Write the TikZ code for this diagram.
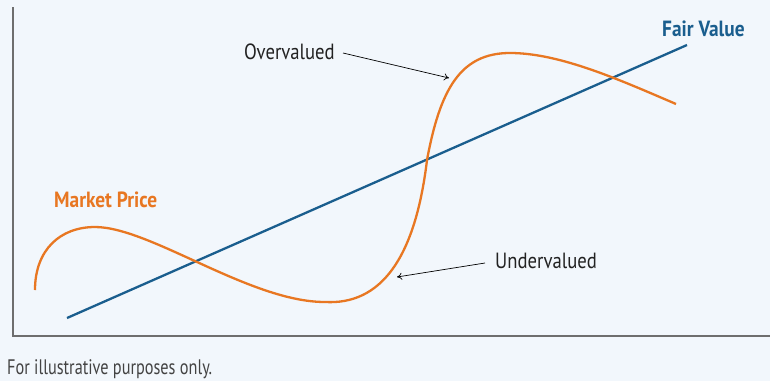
\documentclass[tikz,border=0pt]{standalone}
\usepackage{fontspec}
\setmainfont{PT Sans}[FakeStretch=0.85, BoldFeatures={FakeStretch=0.88}]
\newfontfamily\notefont{PT Sans}[FakeStretch=0.775]
\usetikzlibrary{arrows.meta}
\definecolor{bg}{HTML}{F2F7FC}
\definecolor{mkt}{HTML}{E87722}
\definecolor{fair}{HTML}{1A5E8E}
\definecolor{axisgray}{HTML}{6E6E6E}
\definecolor{txt}{HTML}{222222}
\tikzset{
  lbl/.style={inner sep=0pt, anchor=base west, font=\fontsize{22}{24}\selectfont, text=txt},
  ttl/.style={lbl, font=\fontsize{22}{24}\selectfont\bfseries},
  note/.style={lbl, font=\notefont\fontsize{21}{23}\selectfont, text=txt!85},
  axisline/.style={draw=axisgray, line width=1.1pt},
  callout/.style={draw=black, line width=0.7pt, -{To[length=5pt,width=7pt]}},
  curve/.style={line width=2.3pt}
}
\begin{document}
\begin{tikzpicture}[x=1pt,y=-1pt]
\fill[bg] (0,0) rectangle (770,381);
\useasboundingbox (0,0) rectangle (770,381);
% axes
\coordinate (ytop) at (13,7);
\coordinate (orig) at (13,336);
\coordinate (xend) at (770,336);
\draw[axisline] (ytop) -- (orig) -- (xend);
% fair value line
\coordinate (fv0) at (67,318);
\coordinate (fv1) at (687,45);
\draw[curve, fair] (fv0) -- (fv1);
% market price curve
\draw[curve, mkt] (35,290) .. controls (35,250) and (60,227) .. (95,227)
  .. controls (150,227) and (250,302) .. (325,302)
  .. controls (380,305) and (415,260) .. (427,160)
  .. controls (440,90) and (460,53) .. (510,53)
  .. controls (560,53) and (620,80) .. (676,104);
% labels
\node[ttl, text=fair] (fvl) at (662,36) {Fair Value};
\node[ttl, text=mkt] (mpl) at (54,207) {Market Price};
\node[lbl] (ov) at (244,59) {Overvalued};
\node[lbl] (un) at (495,268) {Undervalued};
\node[note] (fn) at (7,374) {For illustrative purposes only.};
% callouts
\coordinate (ovs) at (343,53);
\coordinate (ovt) at (449,78);
\coordinate (uns) at (485,263);
\coordinate (unt) at (397,277);
\draw[callout] (ovs) -- (ovt);
\draw[callout] (uns) -- (unt);
\end{tikzpicture}
\end{document}
